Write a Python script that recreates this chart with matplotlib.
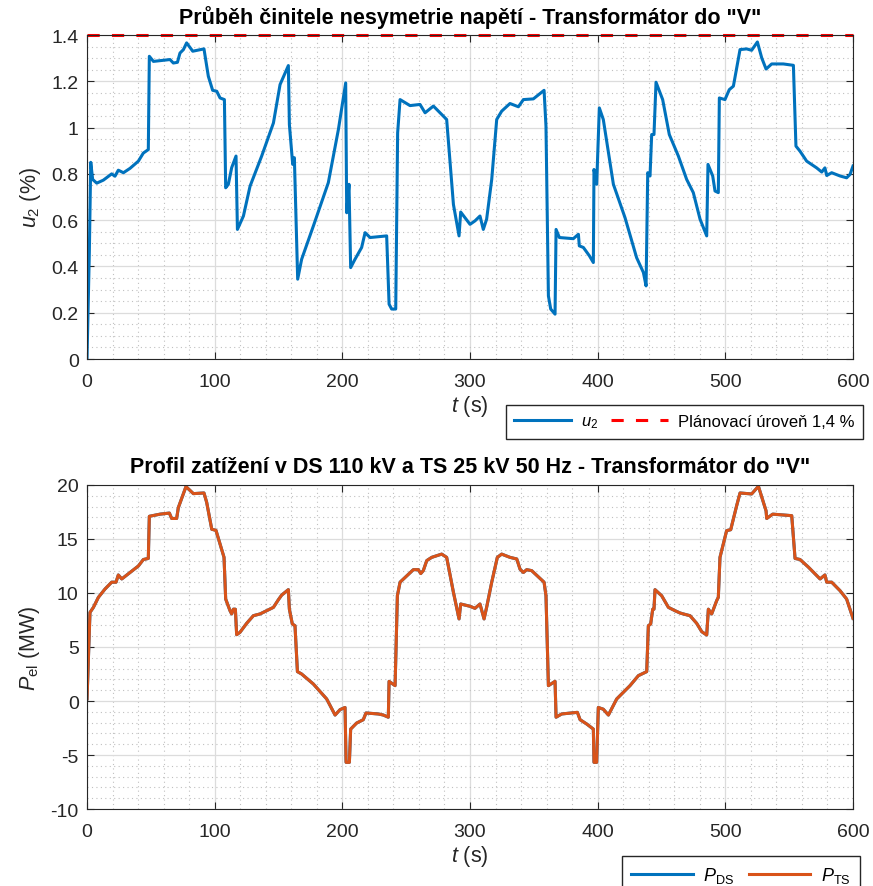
import numpy as np
import matplotlib
matplotlib.use("Agg")
import matplotlib.pyplot as plt
from matplotlib.ticker import MultipleLocator

plt.rcParams['font.family'] = ['Liberation Sans', 'DejaVu Sans']
plt.rcParams['mathtext.fontset'] = 'custom'
plt.rcParams['mathtext.rm'] = 'Liberation Sans'
plt.rcParams['mathtext.it'] = 'Liberation Sans:italic'
plt.rcParams['axes.unicode_minus'] = False

# u2 - negative sequence voltage unbalance (%)
t_u = [0, 1.8, 2.9, 4.4, 7.6, 12.8, 19.3, 21.9, 24.5, 28.5, 33.7, 40.2, 44.1, 48.0, 48.8,
       52, 65, 67.6, 70.8, 72.8, 75.5, 78, 82.8, 91.6, 95, 98.4, 101.6, 104.2, 107.6,
       108.6, 110.7, 113.3, 116.7, 117.8, 122.5, 127.7, 136.8, 146, 151.2, 157.7, 158.5,
       161.1, 162.4, 165, 168.1, 177.3, 189, 196.9, 202.6, 203.4, 205.2, 206.5, 209.9,
       215.1, 217.8, 221.7, 234.7, 236.6, 238.6, 241.8, 243.3, 245.2, 253, 260.8, 264.8,
       271.3, 281.7, 287, 291.4, 292.7, 300, 303.9, 307.8, 310.4, 313, 317, 320.9, 324.8,
       331.3, 337.9, 341.8, 349.6, 358, 359.5, 361.4, 363.2, 366.6, 367.4, 370, 380.9,
       384.9, 385.6, 388.8, 393.5, 396.6, 397.1, 399.2, 401.3, 404.4, 412.3, 421.4, 430.5,
       435.8, 437.9, 439.2, 441, 442.3, 444.1, 445.7, 450.9, 456.1, 463.2, 469.7, 474.9,
       480.2, 485.4, 486.4, 490.1, 491.9, 494.5, 495.3, 499.7, 503.1, 506.3, 511.5, 516.7,
       520.6, 525.1, 528.5, 531.9, 536.3, 545.4, 553.3, 555.3, 558.5, 563.7, 571.5, 575.5,
       578, 579.4, 583.3, 589.8, 595, 597.7, 600]
u2 = [0.007, 0.46, 0.85, 0.776, 0.76, 0.773, 0.80, 0.79, 0.816, 0.805, 0.824, 0.855, 0.89,
      0.905, 1.308, 1.286, 1.294, 1.279, 1.282, 1.322, 1.337, 1.366, 1.33, 1.34, 1.222,
      1.161, 1.157, 1.128, 1.121, 0.74, 0.755, 0.827, 0.877, 0.56, 0.618, 0.747, 0.877,
      1.02, 1.186, 1.268, 1.013, 0.841, 0.87, 0.345, 0.431, 0.575, 0.762, 0.992, 1.193,
      0.632, 0.755, 0.395, 0.431, 0.482, 0.546, 0.525, 0.532, 0.237, 0.216, 0.216, 0.977,
      1.121, 1.095, 1.1, 1.064, 1.093, 1.035, 0.668, 0.532, 0.635, 0.582, 0.597, 0.618,
      0.56, 0.604, 0.776, 1.035, 1.071, 1.104, 1.09, 1.121, 1.124, 1.161, 1.006, 0.273,
      0.216, 0.194, 0.56, 0.525, 0.52, 0.539, 0.489, 0.482, 0.446, 0.417, 0.819, 0.755,
      1.085, 1.035, 0.755, 0.611, 0.438, 0.374, 0.316, 0.805, 0.791, 0.97, 0.97, 1.196,
      1.121, 0.97, 0.877, 0.776, 0.719, 0.604, 0.532, 0.841, 0.791, 0.726, 0.719, 1.128,
      1.121, 1.164, 1.179, 1.337, 1.34, 1.334, 1.37, 1.301, 1.253, 1.275, 1.275, 1.269,
      0.92, 0.898, 0.855, 0.826, 0.808, 0.826, 0.793, 0.805, 0.791, 0.783, 0.798, 0.834]
u2_limit = 1.4

# load profile (MW)
t_p = [0, 2.3, 5, 8.9, 14.1, 19.3, 22.7, 24.5, 27.2, 33.7, 40.2, 44.1, 48, 48.8, 57.2,
       64.5, 66.3, 70.2, 71.5, 77.5, 83.3, 91.6, 93.7, 97.7, 101, 107.3, 108.6, 112,
       113.3, 114.6, 116.2, 117.2, 119.8, 125.1, 130.3, 135.5, 140.7, 146, 149.9, 152.5,
       157.7, 158.5, 160.8, 162.9, 164.8, 168.1, 177.3, 187.7, 194.3, 198.2, 202.1, 202.9,
       205.5, 206.5, 211.2, 216.4, 218.5, 228.2, 232.1, 236, 236.6, 241.3, 243.1, 245.2,
       255.6, 259.5, 261.4, 263.4, 266.1, 270, 277.8, 281.7, 287, 291.4, 292.7, 300,
       303.9, 307.8, 311, 313, 317, 321.4, 324.8, 331.3, 336.6, 339.2, 341.8, 344.4, 348.3,
       358, 359.5, 361.4, 366.6, 367.4, 371.8, 384.1, 386.2, 391.4, 396.6, 397.1, 399.2,
       400.5, 404.4, 408.4, 414.9, 425.3, 431.9, 438.4, 439.7, 441.5, 443.1, 444.1, 444.9,
       450.1, 455.4, 460.6, 464.5, 467.1, 472.3, 477.5, 481.5, 485.4, 486.7, 489.3, 493.2,
       494.5, 495.8, 501, 504.2, 508.9, 511.5, 520.6, 525.9, 531.9, 532.4, 537.1, 552,
       554.6, 558.5, 565, 574.2, 578, 579.4, 583.3, 589.8, 595, 600]
p_ds = [0.19, 8.2, 8.67, 9.6, 10.37, 11, 11, 11.67, 11.3, 11.9, 12.5, 13.1, 13.2, 17.1,
        17.3, 17.4, 16.9, 16.9, 17.9, 19.85, 19.2, 19.26, 18.4, 15.9, 15.8, 13.3, 9.44,
        8.36, 8.06, 8.5, 8.5, 6.14, 6.36, 7.2, 7.9, 8.06, 8.36, 8.67, 9.38, 9.81, 10.31,
        8.5, 7.13, 6.97, 2.72, 2.5, 1.57, 0.19, -1.3, -0.8, -0.6, -5.68, -5.68, -2.6,
        -2.04, -1.73, -1.11, -1.2, -1.3, -1.5, 1.82, 1.42, 9.75, 11, 12.16, 12.16, 11.8,
        12.07, 13, 13.3, 13.6, 13.3, 10.06, 7.6, 8.98, 8.77, 8.58, 8.98, 7.6, 8.67, 11,
        13.3, 13.6, 13.3, 13.15, 12.2, 11.9, 12.16, 12.07, 11, 9.75, 1.42, 1.82, -1.5,
        -1.2, -1.05, -1.73, -2.13, -2.6, -5.68, -5.68, -0.6, -0.76, -1.3, 0.19, 1.42,
        2.35, 2.72, 6.97, 7.13, 8.5, 8.5, 10.31, 9.75, 8.67, 8.36, 8.15, 8.06, 7.9, 7.2,
        6.42, 6.11, 8.5, 8.06, 9.29, 9.6, 13.3, 15.77, 15.86, 18.1, 19.26, 19.17, 19.88,
        17.6, 16.9, 17.3, 17.16, 13.2, 13.1, 12.4, 11.3, 11.67, 11, 11, 10.22, 9.44, 7.65]
p_ts = list(p_ds)

blue = '#0072BD'
orange = '#D95319'
axcol = '#262626'

fig = plt.figure(figsize=(8.73, 8.87), dpi=100)
ax1 = fig.add_axes([0.0997, 0.5941, 0.8774, 0.3653])
ax2 = fig.add_axes([0.0997, 0.0868, 0.8774, 0.3653])


def style(ax):
    ax.set_xlim(0, 600)
    ax.xaxis.set_major_locator(MultipleLocator(100))
    ax.xaxis.set_minor_locator(MultipleLocator(20))
    ax.grid(True, which='major', color='#dcdcdc', lw=0.9)
    ax.grid(True, which='minor', color='#c0c0c0', lw=0.8, ls=(0, (1, 3)))
    ax.set_axisbelow(True)
    ax.tick_params(which='both', direction='in', top=True, right=True, colors=axcol,
                   labelsize=14, labelcolor=axcol)
    ax.tick_params(which='major', length=5, width=0.8)
    ax.tick_params(axis='x', which='major', pad=10)
    ax.tick_params(axis='y', which='major', pad=6)
    ax.tick_params(which='minor', length=0)
    for s in ax.spines.values():
        s.set_color(axcol)
        s.set_linewidth(0.8)
    ax.set_xlabel('$t$ (s)', fontsize=15.5, color=axcol, labelpad=2)


l1, = ax1.plot(t_u, u2, color=blue, lw=2.2, label='$u_2$')
l2 = ax1.axhline(u2_limit, color='#FF0000', lw=2.2, ls=(0, (4, 4)), clip_on=False,
                 label='Plánovací úroveň 1,4 %')
ax1.set_ylim(0, 1.4)
ax1.yaxis.set_minor_locator(MultipleLocator(0.05))
ax1.set_yticks([0, 0.2, 0.4, 0.6, 0.8, 1.0, 1.2, 1.4])
ax1.set_yticklabels(['0', '0.2', '0.4', '0.6', '0.8', '1', '1.2', '1.4'])
style(ax1)
ax1.set_ylabel('$u_2$ (%)', fontsize=15.5, color=axcol, labelpad=6)
ax1.set_title('Průběh činitele nesymetrie napětí - Transformátor do "V"',
              fontsize=15.5, fontweight='bold', pad=9)
fig.legend(handles=[l1, l2], loc='upper right', bbox_to_anchor=(0.998, 1 - 398 / 887),
           ncol=2, fontsize=12, frameon=True, fancybox=False, edgecolor=axcol,
           handlelength=3.4, columnspacing=0.8, handletextpad=0.6, borderpad=0.5,
           framealpha=1)

l3, = ax2.plot(t_p, p_ds, color=blue, lw=2.2, label='$P_{\\mathrm{DS}}$')
l4, = ax2.plot(t_p, p_ts, color=orange, lw=2.2, label='$P_{\\mathrm{TS}}$')
ax2.set_ylim(-10, 20)
ax2.yaxis.set_major_locator(MultipleLocator(5))
ax2.yaxis.set_minor_locator(MultipleLocator(1))
style(ax2)
ax2.set_ylabel('$P_{\\mathrm{el}}$ (MW)', fontsize=15.5, color=axcol, labelpad=6)
ax2.set_title('Profil zatížení v DS 110 kV a TS 25 kV 50 Hz - Transformátor do "V"',
              fontsize=15.5, fontweight='bold', pad=9)
fig.legend(handles=[l3, l4], loc='upper right', bbox_to_anchor=(0.995, 1 - 848 / 887),
           ncol=2, fontsize=13, frameon=True, fancybox=False, edgecolor=axcol,
           handlelength=3.4, columnspacing=0.8, handletextpad=0.6, borderpad=0.5,
           framealpha=1)

fig.savefig('out.png', dpi=100, facecolor='white')
